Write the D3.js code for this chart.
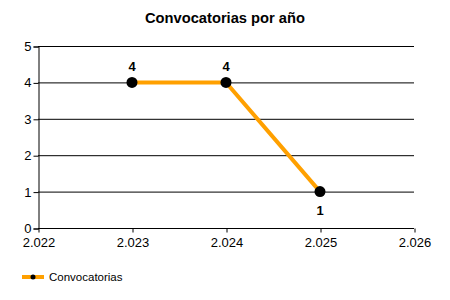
<!DOCTYPE html>
<html><head><meta charset="utf-8">
<script src="https://cdn.jsdelivr.net/npm/d3@7"></script>
<style>body{margin:0;background:#fff}svg{display:block;font-family:"Liberation Sans",Arial,sans-serif}</style>
</head><body><svg width="450" height="300"></svg>
<script>
const title = "Convocatorias por año";
const seriesName = "Convocatorias";
const years = [2023, 2024, 2025];
const values = [4, 4, 1];
const xTicks = [2022, 2023, 2024, 2025, 2026];
const yTicks = [0, 1, 2, 3, 4, 5];

const svg = d3.select("svg");
const x = d3.scaleLinear().domain([2022, 2026]).range([38, 414]);
const y = d3.scaleLinear().domain([0, 5]).range([228, 46]);
const fmt = d => (d/1000).toFixed(3);

svg.append("text").attr("x", 225).attr("y", 23).attr("text-anchor", "middle")
  .attr("font-weight", "bold").attr("font-size", 14.7).text(title);

// grid
svg.append("g").selectAll("line").data(yTicks).join("line")
  .attr("x1", 38).attr("x2", 414).attr("y1", d => y(d)+0.5).attr("y2", d => y(d)+0.5)
  .attr("stroke", "#000").attr("stroke-width", 1);

const yAxis = svg.append("g").attr("transform", "translate(38.5,0.5)")
  .call(d3.axisLeft(y).tickValues(yTicks).tickSize(5).tickPadding(2).tickFormat(d3.format("d")));
const xAxis = svg.append("g").attr("transform", "translate(0.5,228.5)")
  .call(d3.axisBottom(x).tickValues(xTicks).tickSize(4).tickPadding(5).tickFormat(fmt));
[yAxis, xAxis].forEach(g => {
  g.attr("font-size", 13).attr("font-family", "Liberation Sans, Arial, sans-serif");
  g.select(".domain").attr("stroke", "#000");
  g.selectAll("line").attr("stroke", "#000");
  g.selectAll("text").attr("fill", "#000");
});
yAxis.selectAll("text").attr("dy", "0.3em");
xAxis.select(".domain").attr("d", "M37.5,0H413.5");

const pts = years.map((yr, i) => [yr, values[i]]);
svg.append("path").datum(pts)
  .attr("d", d3.line().x(d => x(d[0])).y(d => y(d[1])))
  .attr("fill", "none").attr("stroke", "#FFA000").attr("stroke-width", 4);
svg.append("g").selectAll("circle").data(pts).join("circle")
  .attr("cx", d => x(d[0])).attr("cy", d => y(d[1])).attr("r", 5.5).attr("fill", "#000");
svg.append("g").selectAll("text").data(pts).join("text")
  .attr("x", d => x(d[0])).attr("y", (d, i) => i < 2 ? y(d[1]) - 11 : y(d[1]) + 23)
  .attr("text-anchor", "middle").attr("font-weight", "bold").attr("font-size", 13)
  .text(d => d[1]);

// legend
svg.append("line").attr("x1", 22).attr("x2", 44).attr("y1", 277).attr("y2", 277)
  .attr("stroke", "#FFA000").attr("stroke-width", 4);
svg.append("circle").attr("cx", 33).attr("cy", 277).attr("r", 2.5).attr("fill", "#000");
svg.append("text").attr("x", 49).attr("y", 281).attr("font-size", 11.5).text(seriesName);
</script></body></html>
